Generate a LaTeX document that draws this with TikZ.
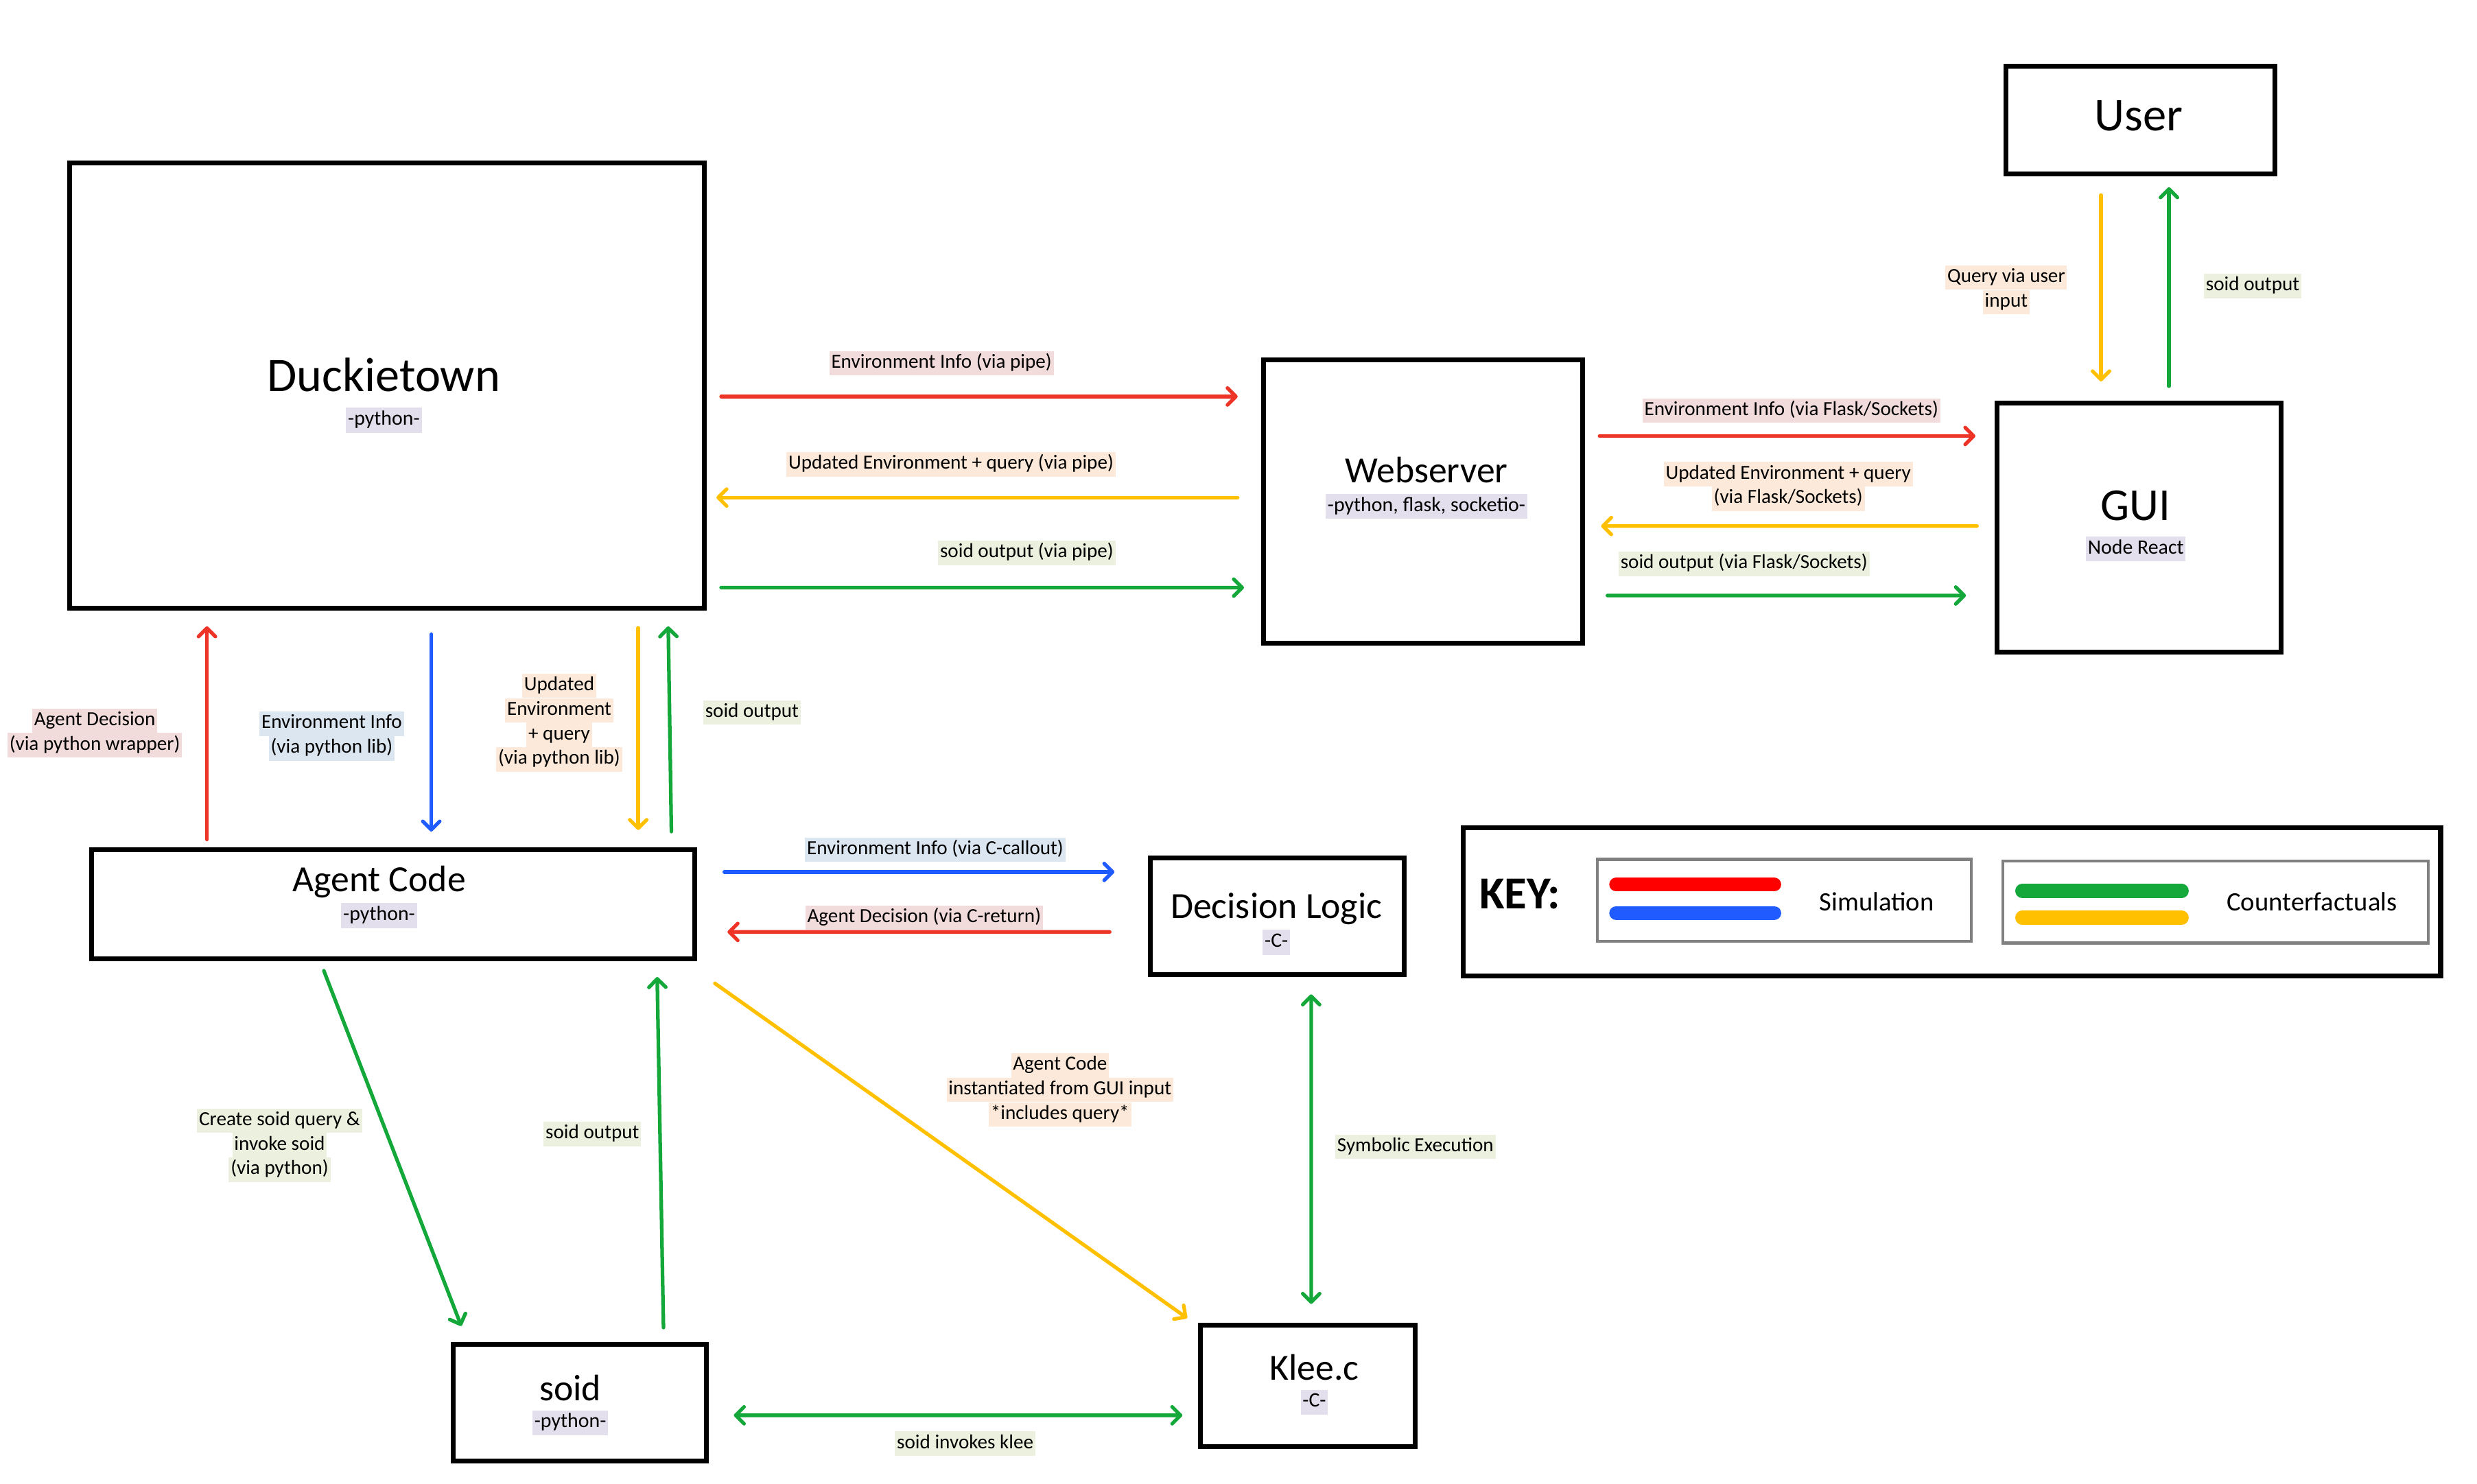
\documentclass[tikz,border=0pt]{standalone}
\usepackage{fontspec}
\setmainfont{Carlito}
\usetikzlibrary{arrows.meta,positioning,calc}

\definecolor{arrred}{HTML}{EE3426}
\definecolor{arrblue}{HTML}{1F5BFF}
\definecolor{arrgreen}{HTML}{14A83B}
\definecolor{arryellow}{HTML}{FFC000}
\definecolor{keyred}{HTML}{FF0000}
\definecolor{keygray}{HTML}{808080}
\definecolor{hlpink}{HTML}{F2DCDB}
\definecolor{hlorange}{HTML}{FDE9D9}
\definecolor{hlgreen}{HTML}{EBF1DE}
\definecolor{hlblue}{HTML}{DCE6F1}
\definecolor{hlpurple}{HTML}{E4DFEC}

\setlength{\fboxsep}{0.8pt}
\newcommand{\hlbox}[2]{\colorbox{#1}{\rule[-0.28em]{0pt}{1.03em}#2}}

\tikzset{component/.style={
    % The shape:
    rectangle,
    % The border:
    line width=2pt,
    draw=black,
    inner sep=0pt,
    },
    keypart/.style={
    rectangle,
    line width=1.2pt,
    draw=keygray,
    inner sep=0pt,
    },
    title/.style={
    font=\fontsize{15.3}{18}\selectfont,
    text height=9.9pt, text depth=0pt,
    inner sep=0pt,
    },
    bigtitle/.style={
    font=\fontsize{20}{24}\selectfont,
    text height=13pt, text depth=0pt,
    inner sep=0pt,
    },
    sub/.style={font=\fontsize{8.5}{10.5}\selectfont, inner sep=0pt},
    lbl/.style={font=\fontsize{8.3}{10.2}\selectfont, align=center, inner sep=0pt},
    keytext/.style={font=\fontsize{11}{13}\selectfont, inner sep=0pt},
    flow/.style={line width=1.5pt, line cap=round},
    simred/.style={flow, draw=arrred, ->},
    simblue/.style={flow, draw=arrblue, ->},
    cfgreen/.style={flow, draw=arrgreen, ->},
    cfyellow/.style={flow, draw=arryellow, ->},
    cfboth/.style={flow, draw=arrgreen, <->},
    keybar/.style={line width=5.8pt, line cap=round},
}

\begin{document}
\begin{tikzpicture}[x=0.023023cm, y=-0.023023cm,
    >={Straight Barb[round,length=3.5pt,width=7pt]}]
    \useasboundingbox (0,0) rectangle (1568,939.07);

    % components
    \node (duck)  [component, minimum width=9.255cm, minimum height=6.492cm] at (245,244) {};
    \node (web)   [component, minimum width=4.651cm, minimum height=4.121cm] at (901,317.5) {};
    \node (gui)   [component, minimum width=4.144cm, minimum height=3.638cm] at (1354,334) {};
    \node (user)  [component, minimum width=3.914cm, minimum height=1.566cm] at (1355,76) {};
    \node (agent) [component, minimum width=8.795cm, minimum height=1.589cm] at (249,572.5) {};
    \node (dec)   [component, minimum width=3.707cm, minimum height=1.704cm] at (808.5,580) {};
    \node (klee)  [component, minimum width=3.131cm, minimum height=1.773cm] at (828,877.5) {};
    \node (soid)  [component, minimum width=3.684cm, minimum height=1.704cm] at (367,888) {};

    \node (duckname)  [bigtitle] at (243,238) {Duckietown};
    \node (ducklang)  [sub,below=2.2mm of duckname] {\hlbox{hlpurple}{-python-}};
    \node (webname)   [title] at (903,298) {Webserver};
    \node (weblang)   [sub,below=1.5mm of webname] {\hlbox{hlpurple}{-python, flask, socketio-}};
    \node (guiname)   [bigtitle,font=\fontsize{19}{23}\selectfont,text height=12.4pt] at (1352,320) {GUI};
    \node (guilang)   [sub,below=2.2mm of guiname] {\hlbox{hlpurple}{Node React}};
    \node (username)  [bigtitle,font=\fontsize{19.5}{23}\selectfont,text height=12.7pt] at (1354,73) {User};
    \node (agentname) [title] at (240,557) {Agent Code};
    \node (agentlang) [sub,below=1.5mm of agentname] {\hlbox{hlpurple}{-python-}};
    \node (decname)   [title] at (808,574) {Decision Logic};
    \node (declang)   [sub,below=1.5mm of decname] {\hlbox{hlpurple}{-C-}};
    \node (kleename)  [title] at (832,866) {Klee.c};
    \node (kleelang)  [sub,below=1.3mm of kleename] {\hlbox{hlpurple}{-C-}};
    \node (soidname)  [title] at (361,879) {soid};
    \node (soidlang)  [sub,below=1.3mm of soidname] {\hlbox{hlpurple}{-python-}};

    % Duckietown <-> Webserver
    \path ($(duck.east)+(9,7)$) edge[simred] ($(web.west)+(-15,-66.5)$);
    \path ($(web.west)+(-15,-2.5)$) edge[cfyellow] ($(duck.east)+(6,71)$);
    \path ($(duck.east)+(9,128)$) edge[cfgreen] ($(web.west)+(-11,54.5)$);
    \node (envpipe)  [lbl] at (596,230) {\hlbox{hlpink}{Environment Info (via pipe)}};
    \node (updpipe)  [lbl] at (602,294) {\hlbox{hlorange}{Updated Environment + query (via pipe)}};
    \node (soidpipe) [lbl] at (650,350) {\hlbox{hlgreen}{soid output (via pipe)}};

    % Webserver <-> GUI
    \path ($(web.east)+(9,-41.5)$) edge[simred] ($(gui.west)+(-12,-58)$);
    \path ($(gui.west)+(-11,-1)$) edge[cfyellow] ($(web.east)+(10,15.5)$);
    \path ($(web.east)+(14,59.5)$) edge[cfgreen] ($(gui.west)+(-18,43)$);
    \node (envflask)  [lbl] at (1134,260) {\hlbox{hlpink}{Environment Info (via Flask/Sockets)}};
    \node (updflask)  [lbl] at (1132,308) {\hlbox{hlorange}{Updated Environment + query}\\\hlbox{hlorange}{(via Flask/Sockets)}};
    \node (soidflask) [lbl] at (1104,357) {\hlbox{hlgreen}{soid output (via Flask/Sockets)}};

    % User <-> GUI
    \path ($(user.south)+(-25,12)$) edge[cfyellow] ($(gui.north)+(-24,-12)$);
    \path ($(gui.north)+(19,-9)$) edge[cfgreen] ($(user.south)+(18,7)$);
    \node (query)    [lbl] at (1270,183.5) {\hlbox{hlorange}{Query via user}\\\hlbox{hlorange}{input}};
    \node (soiduser) [lbl] at (1426,181) {\hlbox{hlgreen}{soid output}};

    % Agent Code <-> Duckietown
    \path ($(agent.north)+(-118,-5)$) edge[simred] ($(duck.south)+(-114,10)$);
    \path ($(duck.south)+(28,15)$) edge[simblue] ($(agent.north)+(24,-10)$);
    \path ($(duck.south)+(159,11)$) edge[cfyellow] ($(agent.north)+(155,-11)$);
    \path ($(agent.north)+(176,-10)$) edge[cfgreen] ($(duck.south)+(178,10)$);
    \node (decwrap)  [lbl] at (60,464) {\hlbox{hlpink}{Agent Decision}\\\hlbox{hlpink}{(via python wrapper)}};
    \node (envlib)   [lbl] at (210,466) {\hlbox{hlblue}{Environment Info}\\\hlbox{hlblue}{(via python lib)}};
    \node (updlib)   [lbl] at (354,457.5) {\hlbox{hlorange}{Updated}\\\hlbox{hlorange}{Environment}\\\hlbox{hlorange}{+ query}\\\hlbox{hlorange}{(via python lib)}};
    \node (soidlib)  [lbl] at (476,451) {\hlbox{hlgreen}{soid output}};

    % Agent Code <-> Decision Logic
    \path ($(agent.east)+(17,-20.5)$) edge[simblue] ($(dec.west)+(-21,-28)$);
    \path ($(dec.west)+(-24,10)$) edge[simred] ($(agent.east)+(19,17.5)$);
    \node (envcall)  [lbl] at (592,538) {\hlbox{hlblue}{Environment Info (via C-callout)}};
    \node (decret)   [lbl] at (585,581) {\hlbox{hlpink}{Agent Decision (via C-return)}};

    % Agent Code <-> soid, Klee.c
    \path ($(agent.south)+(-44,6)$) edge[cfgreen] ($(soid.north)+(-75,-10)$);
    \path ($(soid.north)+(53,-9)$) edge[cfgreen] ($(agent.south)+(167,10)$);
    \path ($(agent.south east)+(11,14)$) edge[cfyellow] ($(klee.north west)+(-7,-3)$);
    \node (create)   [lbl] at (177,725) {\hlbox{hlgreen}{Create soid query \&}\\\hlbox{hlgreen}{invoke soid}\\\hlbox{hlgreen}{(via python)}};
    \node (soidback) [lbl] at (375,718) {\hlbox{hlgreen}{soid output}};
    \node (agentgui) [lbl] at (671,690) {\hlbox{hlorange}{Agent Code}\\\hlbox{hlorange}{instantiated from GUI input}\\\hlbox{hlorange}{*includes query*}};

    % Klee.c
    \path ($(dec.south)+(21.5,11)$) edge[cfboth] ($(klee.north)+(2,-12)$);
    \path ($(soid.east)+(16,8)$) edge[cfboth] ($(klee.west)+(-10,18.5)$);
    \node (symexec)  [lbl] at (896,726) {\hlbox{hlgreen}{Symbolic Execution}};
    \node (invokes)  [lbl] at (611,914) {\hlbox{hlgreen}{soid invokes klee}};

    % key
    \node (keybox) [component, minimum width=14.251cm, minimum height=2.164cm] at (1235.5,571) {};
    \node (keyname) [font=\fontsize{19}{22}\selectfont\bfseries, inner sep=0pt] at (962,566) {KEY:};
    \node (sim) [keypart, minimum width=5.456cm, minimum height=1.197cm] at (1129.5,570) {};
    \node (cf)  [keypart, minimum width=6.193cm, minimum height=1.197cm] at (1402.5,571) {};
    \draw[keybar, keyred]    ($(sim.west)+(13,-10)$) -- ++(100,0);
    \draw[keybar, arrblue]   ($(sim.west)+(13,8)$) -- ++(100,0);
    \draw[keybar, arrgreen]  ($(cf.west)+(13,-7)$) -- ++(101,0);
    \draw[keybar, arryellow] ($(cf.west)+(13,10)$) -- ++(101,0);
    \node (simtext) [keytext] at (1188,571) {Simulation};
    \node (cftext)  [keytext] at (1463.5,571) {Counterfactuals};
\end{tikzpicture}
\end{document}
